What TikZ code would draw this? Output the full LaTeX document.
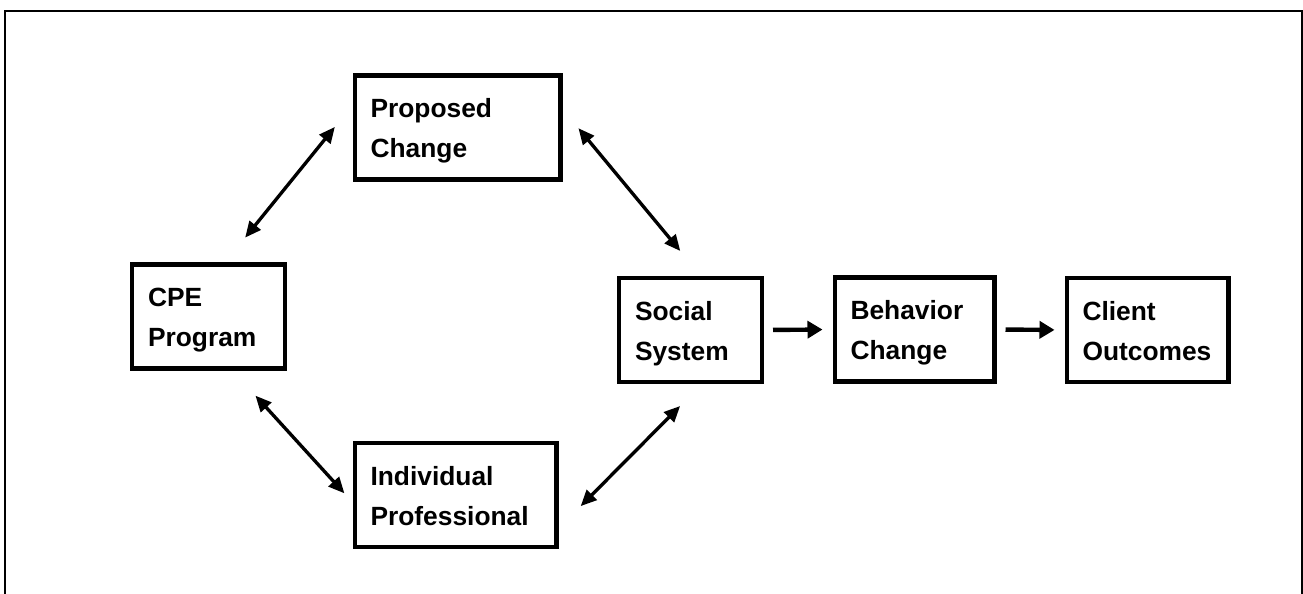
\documentclass[tikz,border=0pt]{standalone}
\usepackage{fontspec}
\setmainfont{Liberation Sans}
\usepackage{tikz}
\usetikzlibrary{positioning,arrows.meta}

\begin{document}
\begin{tikzpicture}[
    x=0.02cm, y=-0.02cm,
    box/.style={draw, line width=2.3pt, align=left, inner xsep=0.32cm, inner ysep=0pt,
                minimum height=2.08cm, font=\fontsize{15}{22.8}\selectfont\bfseries,
                execute at begin node={\rule{0pt}{15pt}},
                execute at end node={\rule[-3.2pt]{0pt}{1pt}}},
    dbl/.style={{Triangle[length=3.2mm,width=2.8mm]}-{Triangle[length=3.2mm,width=2.8mm]}, line width=1.9pt},
    arr/.style={-{Triangle[length=3mm,width=3.4mm]}, line width=2.5pt},
    frm/.style={line width=1.2pt}
  ]

  \useasboundingbox (0,0) rectangle (1303,594);
  \draw[frm] (5,600) -- (5,11) -- (1302,11) -- (1302,600);

  \node[box, text width=3.48cm] (prop)   at (457.5,127.5) {Proposed\\Change};
  \node[box, text width=2.42cm] (cpe)    at (208.5,316.5) {CPE\\Program};
  \node[box, text width=3.40cm] (indiv)  at (455.5,495)   {Individual\\Professional};
  \node[box, text width=2.22cm] (social) at (690.5,330)   {Social\\System};
  \node[box, text width=2.56cm] (behav)  at (914.5,329.5) {Behavior\\Change};
  \node[box, text width=2.60cm] (client) at (1147.5,330)  {Client\\Outcomes};

  \draw[dbl, shorten <=6.4mm, shorten >=5.6mm] (cpe.73)    -- (prop.168);
  \draw[dbl, shorten <=5mm,   shorten >=6.5mm] (prop.10)   -- (social.79);
  \draw[dbl, shorten <=6.8mm, shorten >=2.4mm] (cpe.-66)   -- (indiv.184);
  \draw[dbl, shorten <=6.3mm, shorten >=6.2mm] (indiv.-18) -- (social.-78);

  \draw[arr, shorten <=1.8mm, shorten >=2mm] (social.east) -- (behav.west);
  \draw[arr, shorten <=1.8mm, shorten >=2mm] (behav.east)  -- (client.west);
\end{tikzpicture}
\end{document}
